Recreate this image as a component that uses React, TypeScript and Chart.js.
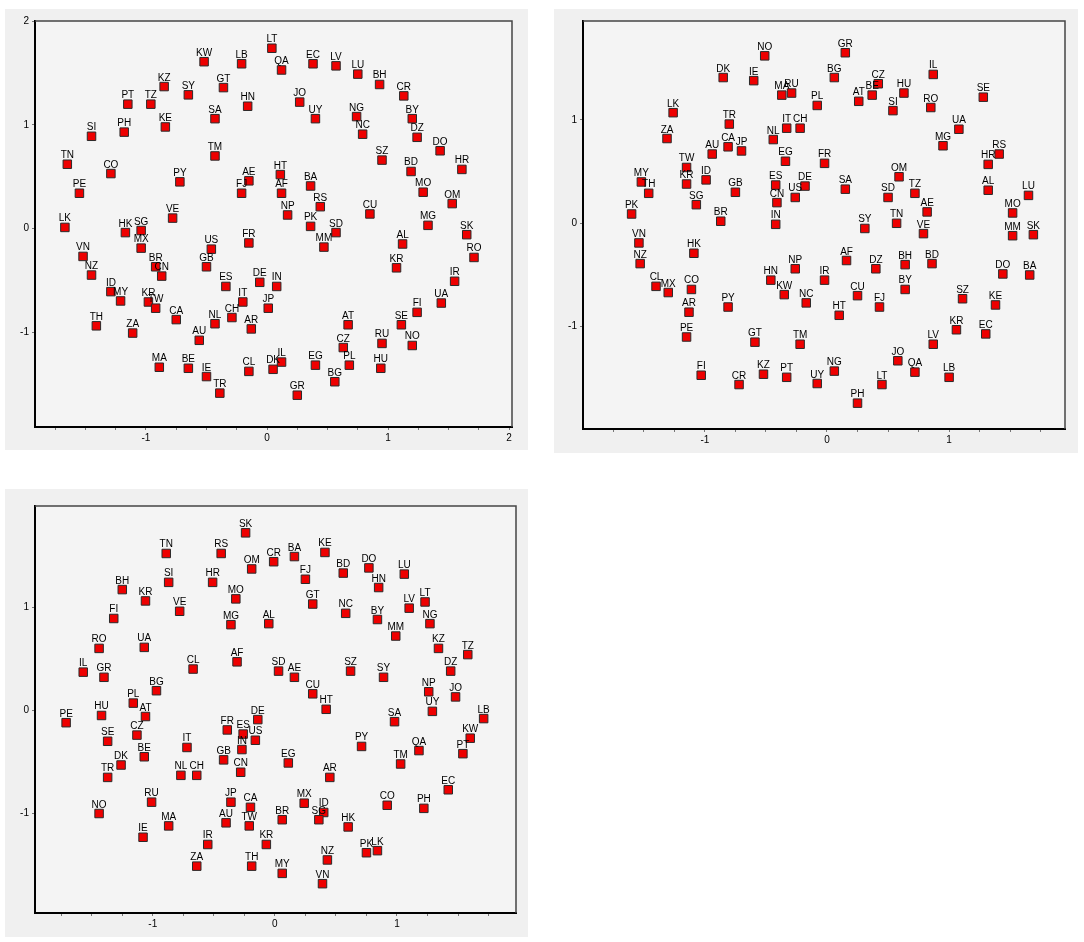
import React, { useEffect, useRef } from 'react';
import { Chart, registerables } from 'chart.js';
Chart.register(...registerables);

// ---------- Panel 1 ----------
const labels1 = ['KW','LB','LT','KZ','SY','GT','PT','TZ','HN','SA','KE','SI','PH','TM','TN','CO','PY','AE','FJ','PE','VE','LK',
  'QA','EC','LV','LU','BH','CR','JO','UY','NG','NC','BY','DZ','DO','SZ','BD','HR','HT','BA','MO','AF','OM','RS','NP','CU','PK','SD','MG','SK','MM','AL','RO','KR','IR','IN','DE','JP','UA','FI','AT','SE','RU','NO','CZ','IL','DK','EG','PL','HU','BG','GR',
  'HK','SG','VN','MX','US','FR','NZ','BR','CN','GB','ES','ID','MY','KR','TW','IT','CA','CH','NL','AR','TH','ZA','AU','MA','BE','IE','CL','TR'];
const x1 = [-0.52,-0.21,0.04,-0.85,-0.65,-0.36,-1.15,-0.96,-0.16,-0.43,-0.84,-1.45,-1.18,-0.43,-1.65,-1.29,-0.72,-0.15,-0.21,-1.55,-0.78,-1.67,
  0.12,0.38,0.57,0.75,0.93,1.13,0.27,0.40,0.74,0.79,1.20,1.24,1.43,0.95,1.19,1.61,0.11,0.36,1.29,0.12,1.53,0.44,0.17,0.85,0.36,0.57,1.33,1.65,0.47,1.12,1.71,1.07,1.55,0.08,-0.06,0.01,1.44,1.24,0.67,1.11,0.95,1.20,0.63,0.12,0.05,0.40,0.68,0.94,0.56,0.25,
  -1.17,-1.04,-1.52,-1.04,-0.46,-0.15,-1.45,-0.92,-0.87,-0.50,-0.34,-1.29,-1.21,-0.98,-0.92,-0.20,-0.75,-0.29,-0.43,-0.13,-1.41,-1.11,-0.56,-0.89,-0.65,-0.50,-0.15,-0.39];
const y1 = [1.61,1.59,1.74,1.37,1.29,1.36,1.20,1.20,1.18,1.06,0.98,0.89,0.93,0.70,0.62,0.53,0.45,0.46,0.34,0.34,0.10,0.01,
  1.53,1.59,1.57,1.49,1.39,1.28,1.22,1.06,1.08,0.91,1.06,0.88,0.75,0.66,0.55,0.57,0.52,0.41,0.35,0.34,0.24,0.21,0.13,0.14,0.02,-0.04,0.03,-0.06,-0.18,-0.15,-0.28,-0.38,-0.51,-0.56,-0.52,-0.77,-0.72,-0.81,-0.93,-0.93,-1.11,-1.13,-1.15,-1.29,-1.36,-1.32,-1.32,-1.35,-1.48,-1.61,
  -0.04,-0.02,-0.27,-0.19,-0.20,-0.14,-0.45,-0.37,-0.46,-0.37,-0.56,-0.61,-0.70,-0.71,-0.77,-0.71,-0.88,-0.86,-0.92,-0.97,-0.94,-1.01,-1.08,-1.34,-1.35,-1.43,-1.38,-1.59];

// ---------- Panel 2 ----------
const labels2 = ['NO','DK','IE','MA','RU','PL','LK','TR','IT','CH','ZA','NL','CA','JP','AU','EG','TW','FR','MY','TH','KR','ID','ES','DE','US','GB','CN','SG','PK','BR','IN',
  'GR','BG','CZ','BE','AT','HU','IL','SI','RO','SE','UA','MG','RS','HR','OM','SA','SD','TZ','AL','LU','AE','MO','SY','TN','VE','MM','SK','AF','DZ','BH','BD','DO','BA','IR','BY','CU','FJ','SZ','KE','HT','KR','EC','LV','JO','QA','LB','NG','LT','PH','UY',
  'VN','HK','NZ','NP','HN','CL','MX','CO','KW','NC','PY','AR','PE','GT','TM','FI','KZ','PT','CR'];
const x2 = [-0.51,-0.85,-0.60,-0.37,-0.29,-0.08,-1.26,-0.80,-0.33,-0.22,-1.31,-0.44,-0.81,-0.70,-0.94,-0.34,-1.15,-0.02,-1.52,-1.46,-1.15,-0.99,-0.42,-0.18,-0.26,-0.75,-0.41,-1.07,-1.60,-0.87,-0.42,
  0.15,0.06,0.42,0.37,0.26,0.63,0.87,0.54,0.85,1.28,1.08,0.95,1.41,1.32,0.59,0.15,0.50,0.72,1.32,1.65,0.82,1.52,0.31,0.57,0.79,1.52,1.69,0.16,0.40,0.64,0.86,1.44,1.66,-0.02,0.64,0.25,0.43,1.11,1.38,0.10,1.06,1.30,0.87,0.58,0.72,1.00,0.06,0.45,0.25,-0.08,
  -1.54,-1.09,-1.53,-0.26,-0.46,-1.40,-1.30,-1.11,-0.35,-0.17,-0.81,-1.13,-1.15,-0.59,-0.22,-1.03,-0.52,-0.33,-0.72];
const y2 = [1.62,1.41,1.38,1.24,1.26,1.14,1.07,0.96,0.92,0.92,0.82,0.81,0.74,0.70,0.67,0.60,0.54,0.58,0.40,0.29,0.38,0.42,0.37,0.36,0.25,0.30,0.20,0.18,0.09,0.02,-0.01,
  1.65,1.41,1.35,1.24,1.18,1.26,1.44,1.09,1.12,1.22,0.91,0.75,0.67,0.57,0.45,0.33,0.25,0.29,0.32,0.27,0.11,0.10,-0.05,0.00,-0.10,-0.12,-0.11,-0.36,-0.44,-0.40,-0.39,-0.49,-0.50,-0.55,-0.64,-0.70,-0.81,-0.73,-0.79,-0.89,-1.03,-1.07,-1.17,-1.33,-1.44,-1.49,-1.43,-1.56,-1.74,-1.55,
  -0.19,-0.29,-0.39,-0.44,-0.55,-0.61,-0.67,-0.64,-0.69,-0.77,-0.81,-0.86,-1.10,-1.15,-1.17,-1.47,-1.46,-1.49,-1.56];

// ---------- Panel 3 ----------
const labels3 = ['SK','TN','RS','OM','CR','SI','HR','BH','KR','MO','VE','FI','MG','AL','RO','UA','AF','CL','IL','GR','BG','PL',
  'BA','KE','DO','BD','LU','FJ','HN','LT','GT','LV','NC','BY','NG','MM','KZ','TZ','SD','AE','SZ','DZ','SY','CU','NP','JO','HT','UY','LB','SA','KW','PT','PY','QA','TM','EG','AR','EC','MX','ID','SG','BR','CO','PH','HK','KR','PK','LK','NZ','MY','VN',
  'PE','HU','AT','DE','FR','ES','US','IN','CZ','SE','IT','BE','GB','DK','CN','NL','CH','TR','RU','JP','CA','NO','AU','MA','TW','IE','IR','ZA','TH'];
const x3 = [-0.24,-0.89,-0.44,-0.19,-0.01,-0.87,-0.51,-1.25,-1.06,-0.32,-0.78,-1.32,-0.36,-0.05,-1.44,-1.07,-0.31,-0.67,-1.57,-1.40,-0.97,-1.16,
  0.16,0.41,0.77,0.56,1.06,0.25,0.85,1.23,0.31,1.10,0.58,0.84,1.27,0.99,1.34,1.58,0.03,0.16,0.62,1.44,0.89,0.31,1.26,1.48,0.42,1.29,1.71,0.98,1.60,1.54,0.71,1.18,1.03,0.11,0.45,1.42,0.24,0.40,0.36,0.06,0.92,1.22,0.60,-0.07,0.75,0.84,0.43,0.06,0.39,
  -1.71,-1.42,-1.06,-0.14,-0.39,-0.26,-0.16,-0.27,-1.13,-1.37,-0.72,-1.07,-0.42,-1.26,-0.28,-0.77,-0.64,-1.37,-1.01,-0.36,-0.20,-1.44,-0.40,-0.87,-0.21,-1.08,-0.55,-0.64,-0.19];
const y3 = [1.72,1.52,1.52,1.37,1.44,1.24,1.24,1.17,1.06,1.08,0.96,0.89,0.83,0.84,0.60,0.61,0.47,0.40,0.37,0.32,0.19,0.07,
  1.49,1.53,1.38,1.33,1.32,1.27,1.19,1.05,1.03,0.99,0.94,0.88,0.84,0.72,0.60,0.54,0.38,0.32,0.38,0.38,0.32,0.16,0.18,0.13,0.01,-0.01,-0.08,-0.11,-0.27,-0.42,-0.35,-0.39,-0.52,-0.51,-0.65,-0.77,-0.90,-0.99,-1.06,-1.06,-0.92,-0.95,-1.13,-1.30,-1.38,-1.36,-1.45,-1.58,-1.68,
  -0.12,-0.05,-0.06,-0.09,-0.19,-0.23,-0.29,-0.38,-0.24,-0.30,-0.36,-0.45,-0.48,-0.53,-0.60,-0.63,-0.63,-0.65,-0.89,-0.89,-0.94,-1.00,-1.09,-1.12,-1.12,-1.23,-1.30,-1.51,-1.51];

type PanelCfg = {
  left: number; top: number; width: number; height: number;
  areaLeft: number; areaTop: number; padRight: number; axisH: number;
  xMin: number; xMax: number; yMin: number; yMax: number;
  labels: string[]; xs: number[]; ys: number[];
};

const panels: PanelCfg[] = [
  { left: 5, top: 9, width: 523, height: 441, areaLeft: 30, areaTop: 12, padRight: 16, axisH: 23,
    xMin: -1.917, xMax: 2.024, yMin: -1.917, yMax: 2.003, labels: labels1, xs: x1, ys: y1 },
  { left: 554, top: 9, width: 524, height: 444, areaLeft: 29, areaTop: 12, padRight: 13, axisH: 24,
    xMin: -1.998, xMax: 1.949, yMin: -1.99, yMax: 1.957, labels: labels2, xs: x2, ys: y2 },
  { left: 5, top: 489, width: 523, height: 448, areaLeft: 30, areaTop: 17, padRight: 12, axisH: 24,
    xMin: -1.965, xMax: 1.975, yMin: -1.964, yMax: 1.98, labels: labels3, xs: x3, ys: y3 },
];

const FONT = '"Liberation Sans", Arial, sans-serif';

const framePlugin = {
  id: 'frame',
  beforeDraw(chart: any) {
    const { ctx, chartArea } = chart;
    const { left, top, right, bottom } = chartArea;
    ctx.save();
    ctx.fillStyle = '#f4f4f4';
    ctx.fillRect(left, top, right - left, bottom - top);
    ctx.restore();
  },
  afterDraw(chart: any) {
    const { ctx, chartArea } = chart;
    const { left, top, right, bottom } = chartArea;
    ctx.save();
    ctx.strokeStyle = '#444';
    ctx.lineWidth = 1.5;
    ctx.beginPath();
    ctx.moveTo(left, top);
    ctx.lineTo(right, top);
    ctx.lineTo(right, bottom);
    ctx.stroke();
    ctx.restore();
  },
};

const labelPlugin = {
  id: 'pointLabels',
  afterDatasetsDraw(chart: any) {
    const { ctx } = chart;
    const meta = chart.getDatasetMeta(0);
    const labels: string[] = chart.data.datasets[0].pointLabels;
    ctx.save();
    ctx.font = `10px ${FONT}`;
    ctx.fillStyle = '#000';
    ctx.textAlign = 'center';
    ctx.textBaseline = 'alphabetic';
    meta.data.forEach((pt: any, i: number) => {
      ctx.fillText(labels[i], pt.x, pt.y - 6);
    });
    ctx.restore();
  },
};

function Panel({ cfg }: { cfg: PanelCfg }) {
  const ref = useRef<HTMLCanvasElement>(null);
  useEffect(() => {
    if (!ref.current) return;
    const data = cfg.xs.map((x, i) => ({ x, y: cfg.ys[i] }));
    const chart = new Chart(ref.current, {
      type: 'scatter',
      data: {
        datasets: [{
          data,
          pointLabels: cfg.labels,
          pointStyle: 'rect',
          pointRadius: 6,
          pointHoverRadius: 6,
          backgroundColor: '#ee0000',
          borderColor: '#2a2a2a',
          borderWidth: 1,
        } as any],
      },
      options: {
        responsive: false,
        animation: false,
        devicePixelRatio: 1,
        layout: { padding: { left: 0, top: cfg.areaTop, right: cfg.padRight, bottom: 0 } },
        plugins: { legend: { display: false }, tooltip: { enabled: false } },
        events: [],
        scales: {
          x: {
            type: 'linear',
            min: cfg.xMin,
            max: cfg.xMax,
            afterFit: (s: any) => { s.height = cfg.axisH; },
            border: { display: true, color: '#000', width: 2 },
            grid: { drawOnChartArea: false, drawTicks: true, tickLength: 3, color: '#777' },
            ticks: {
              stepSize: 0.25,
              includeBounds: false,
              autoSkip: false,
              maxRotation: 0,
              padding: 2,
              color: '#000',
              font: { family: FONT, size: 10 },
              callback: (v: any) => {
                const n = Number(v);
                return Math.abs(n - Math.round(n)) < 1e-6 ? String(Math.round(n) === 0 ? 0 : Math.round(n)) : '';
              },
            },
          },
          y: {
            type: 'linear',
            min: cfg.yMin,
            max: cfg.yMax,
            afterFit: (s: any) => { s.width = cfg.areaLeft; },
            border: { display: true, color: '#000', width: 2 },
            grid: { drawOnChartArea: false, drawTicks: true, tickLength: 3, color: '#777' },
            ticks: {
              stepSize: 1,
              includeBounds: false,
              autoSkip: false,
              padding: 3,
              color: '#000',
              font: { family: FONT, size: 10 },
              callback: (v: any) => {
                const n = Math.round(Number(v));
                return String(n === 0 ? 0 : n);
              },
            },
          },
        },
      } as any,
      plugins: [framePlugin, labelPlugin],
    });
    return () => chart.destroy();
  }, []);
  return (
    <div style={{ position: 'absolute', left: cfg.left, top: cfg.top, width: cfg.width, height: cfg.height, background: '#f0f0f0' }}>
      <canvas ref={ref} width={cfg.width} height={cfg.height} style={{ display: 'block', width: cfg.width, height: cfg.height }} />
    </div>
  );
}

export default function App() {
  return (
    <div style={{ position: 'absolute', left: 0, top: 0, width: 1084, height: 942, background: '#fff' }}>
      {panels.map((p, i) => <Panel key={i} cfg={p} />)}
    </div>
  );
}
